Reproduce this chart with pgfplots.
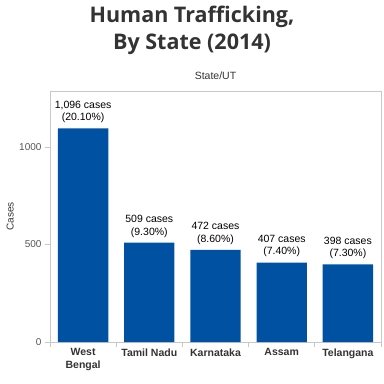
\documentclass[border=0pt]{standalone}
\usepackage{pgfplots}
\pgfplotsset{compat=1.18}
\usepackage{fontspec}
\setmainfont{Liberation Sans}
\newfontfamily\titlefont{Open Sans}
\definecolor{barblue}{RGB}{0,81,161}
\definecolor{framegray}{RGB}{200,200,200}
\definecolor{ticktext}{RGB}{85,85,85}
\definecolor{darktext}{RGB}{51,51,51}
\begin{document}
\begin{tikzpicture}[x=1pt,y=1pt]
\useasboundingbox (0,0) rectangle (384,384);
\node[anchor=base,font=\titlefont\bfseries\fontsize{21.5}{26}\selectfont,text=darktext] at (192,361.3) {Human Trafficking,};
\node[anchor=base,font=\titlefont\bfseries\fontsize{21.5}{26}\selectfont,text=darktext] at (192,334.7) {By State (2014)};
\begin{axis}[
  at={(50pt,42pt)}, anchor=south west,
  scale only axis, width=331pt, height=251pt,
  xmin=-0.5, xmax=4.5, ymin=0, ymax=1287,
  axis line style={draw=framegray},
  tick align=outside, major tick length=5pt,
  tick style={draw=framegray, line width=0.6pt},
  xtick={-0.5,0.5,1.5,2.5,3.5,4.5},
  xticklabels={},
  extra x ticks={0,1,2,3,4},
  extra x tick labels={West\\Bengal,Tamil Nadu,Karnataka,Assam,Telangana},
  extra x tick style={major tick length=0pt, tick label style={align=center, font=\bfseries\fontsize{10.5}{13}\selectfont, text=darktext, yshift=-3pt}},
  xtick pos=bottom, ytick pos=left,
  ytick={0,500,1000},
  /pgf/number format/assume math mode=true,
  y tick label style={font=\fontsize{10}{12}\selectfont, text=ticktext, /pgf/number format/1000 sep={}},
  ylabel={Cases},
  ylabel style={at={(axis description cs:-0.12,0.5)}, anchor=center, font=\fontsize{10}{12}\selectfont, text=darktext},
  title={State/UT},
  title style={at={(axis description cs:0.5,1)}, anchor=base, yshift=6pt, font=\fontsize{10.5}{12}\selectfont, text=darktext},
]
\addplot[ybar, bar width=0.76, fill=barblue, draw=none, bar shift=0pt,
  point meta=explicit symbolic,
  nodes near coords,
  every node near coord/.append style={font=\fontsize{10.5}{12.5}\selectfont, align=center, anchor=south, yshift=2pt, text=black}]
coordinates {
  (0,1096) [{1,096 cases\\(20.10\%)}]
  (1,509) [{509 cases\\(9.30\%)}]
  (2,472) [{472 cases\\(8.60\%)}]
  (3,407) [{407 cases\\(7.40\%)}]
  (4,398) [{398 cases\\(7.30\%)}]
};
\end{axis}
\end{tikzpicture}
\end{document}
